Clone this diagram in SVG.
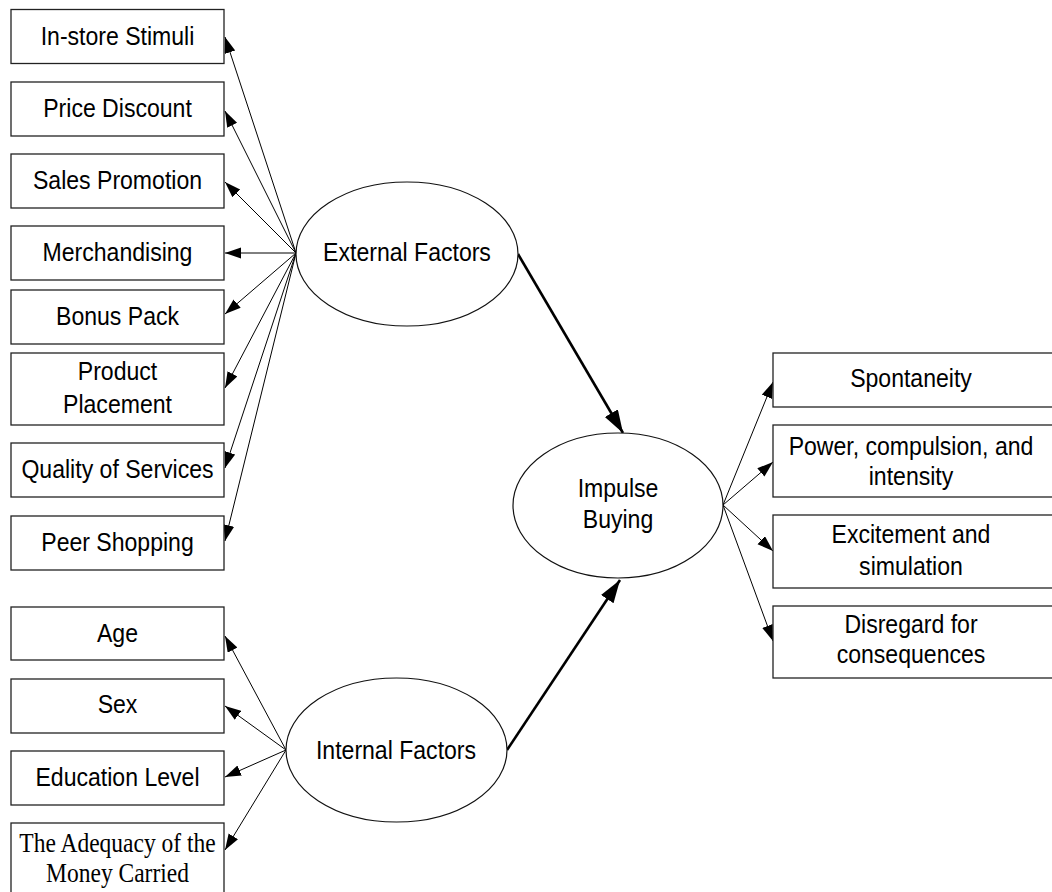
<svg xmlns="http://www.w3.org/2000/svg" width="1052" height="892" viewBox="0 0 1052 892">
<style>
.box{fill:#fff;stroke:#222;stroke-width:1.3}
.ell{fill:#fff;stroke:#111;stroke-width:1.2}
.t{font-family:"Liberation Sans",Arial,sans-serif;font-size:26.5px;fill:#000;text-anchor:middle}
.ts{font-family:"Liberation Serif","Times New Roman",serif;font-size:27px;fill:#000;text-anchor:middle}
.thin{stroke:#000;stroke-width:1;fill:none;marker-end:url(#ah)}
.thick{stroke:#000;stroke-width:2.6;fill:none;marker-end:url(#ahb)}
</style>
<defs>
<marker id="ah" markerUnits="userSpaceOnUse" markerWidth="17" markerHeight="12" refX="16" refY="5.5" orient="auto">
<path d="M0,0 L16,5.5 L0,11 z" fill="#000"/>
</marker>
<marker id="ahb" markerUnits="userSpaceOnUse" markerWidth="24" markerHeight="16" refX="23" refY="7.5" orient="auto">
<path d="M0,0 L23,7.5 L0,15 z" fill="#000"/>
</marker>
</defs>
<rect width="1052" height="892" fill="#fff"/>
<g id="connectors">
<line class="thin" x1="296" y1="253" x2="225" y2="37"/>
<line class="thin" x1="296" y1="253" x2="225" y2="111"/>
<line class="thin" x1="296" y1="253" x2="225" y2="182"/>
<line class="thin" x1="296" y1="253" x2="225" y2="253"/>
<line class="thin" x1="296" y1="253" x2="225" y2="314"/>
<line class="thin" x1="296" y1="253" x2="225" y2="388"/>
<line class="thin" x1="296" y1="253" x2="225" y2="468"/>
<line class="thin" x1="296" y1="253" x2="225" y2="541"/>
<line class="thin" x1="286" y1="750" x2="225" y2="636"/>
<line class="thin" x1="286" y1="750" x2="225" y2="706"/>
<line class="thin" x1="286" y1="750" x2="225" y2="777"/>
<line class="thin" x1="286" y1="750" x2="225" y2="850"/>
<line class="thin" x1="723" y1="505" x2="773" y2="382"/>
<line class="thin" x1="723" y1="505" x2="773" y2="462"/>
<line class="thin" x1="723" y1="505" x2="773" y2="551"/>
<line class="thin" x1="723" y1="505" x2="773" y2="641"/>
<line class="thick" x1="518" y1="254" x2="623" y2="433"/>
<line class="thick" x1="507" y1="750" x2="620" y2="580"/>
</g>
<g id="n-instore"><rect class="box" x="11" y="9.5" width="213" height="54"/><text class="t" transform="translate(117.5,45) scale(0.87,1)">In-store Stimuli</text></g>
<g id="n-price"><rect class="box" x="11" y="82" width="213" height="54"/><text class="t" transform="translate(117.5,117) scale(0.87,1)">Price Discount</text></g>
<g id="n-sales"><rect class="box" x="11" y="154" width="213" height="54"/><text class="t" transform="translate(117.5,189) scale(0.87,1)">Sales Promotion</text></g>
<g id="n-merch"><rect class="box" x="11" y="226" width="213" height="54"/><text class="t" transform="translate(117.5,261) scale(0.87,1)">Merchandising</text></g>
<g id="n-bonus"><rect class="box" x="11" y="290" width="213" height="54"/><text class="t" transform="translate(117.5,325) scale(0.87,1)">Bonus Pack</text></g>
<g id="n-product"><rect class="box" x="11" y="353" width="213" height="72"/><text class="t" transform="translate(117.5,380) scale(0.87,1)">Product</text><text class="t" transform="translate(117.5,413) scale(0.87,1)">Placement</text></g>
<g id="n-quality"><rect class="box" x="11" y="443" width="213" height="54"/><text class="t" transform="translate(117.5,478) scale(0.87,1)">Quality of Services</text></g>
<g id="n-peer"><rect class="box" x="11" y="516" width="213" height="54"/><text class="t" transform="translate(117.5,551) scale(0.87,1)">Peer Shopping</text></g>
<g id="n-age"><rect class="box" x="11" y="607" width="213" height="53"/><text class="t" transform="translate(117.5,642) scale(0.87,1)">Age</text></g>
<g id="n-sex"><rect class="box" x="11" y="679" width="213" height="54"/><text class="t" transform="translate(117.5,713) scale(0.87,1)">Sex</text></g>
<g id="n-edu"><rect class="box" x="11" y="751" width="213" height="54"/><text class="t" transform="translate(117.5,786) scale(0.87,1)">Education Level</text></g>
<g id="n-money"><rect class="box" x="11" y="823" width="213" height="80"/><text class="ts" transform="translate(117.5,852) scale(0.87,1)">The Adequacy of the</text><text class="ts" transform="translate(117.5,882) scale(0.87,1)">Money Carried</text></g>
<g id="n-external"><ellipse class="ell" cx="407" cy="254" rx="111" ry="72"/><text class="t" transform="translate(407,261) scale(0.87,1)">External Factors</text></g>
<g id="n-internal"><ellipse class="ell" cx="396.5" cy="750" rx="110.5" ry="72"/><text class="t" transform="translate(396,759) scale(0.87,1)">Internal Factors</text></g>
<g id="n-impulse"><ellipse class="ell" cx="618" cy="505.5" rx="105" ry="72.5"/><text class="t" transform="translate(618,497) scale(0.87,1)">Impulse</text><text class="t" transform="translate(618,528) scale(0.87,1)">Buying</text></g>
<g id="n-spont"><rect class="box" x="773" y="353" width="290" height="54"/><text class="t" transform="translate(911,387) scale(0.87,1)">Spontaneity</text></g>
<g id="n-power"><rect class="box" x="773" y="425" width="290" height="72"/><text class="t" transform="translate(911,455) scale(0.87,1)">Power, compulsion, and</text><text class="t" transform="translate(911,485) scale(0.87,1)">intensity</text></g>
<g id="n-excite"><rect class="box" x="773" y="515" width="290" height="73"/><text class="t" transform="translate(911,543) scale(0.87,1)">Excitement and</text><text class="t" transform="translate(911,575) scale(0.87,1)">simulation</text></g>
<g id="n-disregard"><rect class="box" x="773" y="606" width="290" height="72"/><text class="t" transform="translate(911,633) scale(0.87,1)">Disregard for</text><text class="t" transform="translate(911,663) scale(0.87,1)">consequences</text></g>
</svg>
